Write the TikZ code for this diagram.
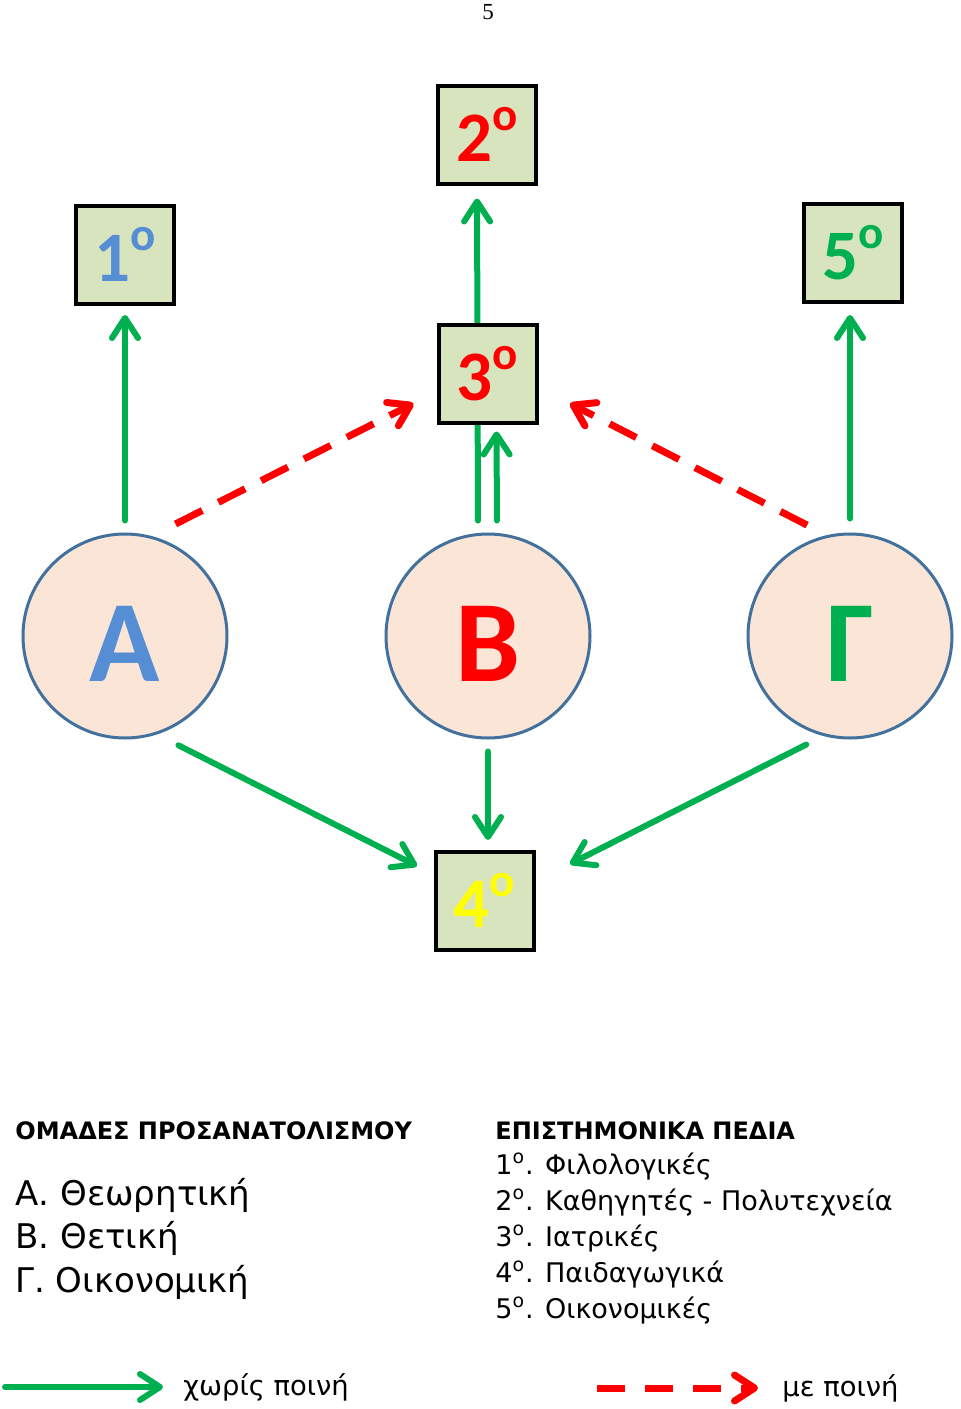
\documentclass[tikz,border=0pt]{standalone}
\usepackage{fontspec}
\setmainfont{DejaVu Sans}
\newfontfamily\calfont{Carlito}
\newfontfamily\pagefont{Liberation Serif}
\usetikzlibrary{arrows.meta,positioning,backgrounds}

\definecolor{boxgreen}{HTML}{D7E4BD}
\definecolor{peach}{HTML}{FBE5D6}
\definecolor{rim}{HTML}{41719C}
\definecolor{arrgreen}{HTML}{00B050}
\definecolor{fblue}{HTML}{558ED5}
\definecolor{fred}{HTML}{FF0000}
\definecolor{fyellow}{HTML}{FFFF00}

% raised small o of the field boxes
\newcommand\boxsup{\raisebox{15.5pt}{\fontsize{23.5}{24}\selectfont o}}

\begin{document}
\begin{tikzpicture}[
    x=0.5pt, y=-0.5pt,
    group/.style={circle, draw=rim, fill=peach, line width=1.5pt, minimum size=102pt, inner sep=0pt,
      text height=45.9pt, text depth=0pt,
      font=\calfont\bfseries\fontsize{58}{58}\selectfont},
    field/.style={rectangle, draw=black, fill=boxgreen, line width=2pt, minimum size=49pt, inner sep=0pt,
      font=\calfont\bfseries\fontsize{35.5}{36}\selectfont},
    nopen/.style={draw=arrgreen, line width=3pt, line cap=round, -{Straight Barb[length=10pt, width=13pt, round]}},
    pen/.style={draw=fred, line width=3.5pt, dash pattern=on 15pt off 9pt, -{Straight Barb[length=10pt, width=13pt, round]}},
    head/.style={font=\bfseries\fontsize{12}{14}\selectfont, anchor=base west, inner sep=0pt},
    grouptext/.style={font=\fontsize{17}{20}\selectfont, anchor=base west, inner sep=0pt},
    fieldtext/.style={font=\fontsize{13.5}{16}\selectfont, anchor=base west, inner sep=0pt},
    keylabel/.style={font=\fontsize{13.7}{16}\selectfont, inner sep=0pt}
  ]
  \useasboundingbox (0,0) rectangle (960,1409);

  % Page number
  \node[font=\pagefont\fontsize{11.5}{12}\selectfont] (page) at (488,12) {5};

  % Orientation groups
  \node[group, text=fblue] (A) at (125,636) {Α};
  \node[group, text=fred] (B) at (488,636) {Β};
  \node[group, text=arrgreen] (G) at (850,636) {Γ};

  % Scientific fields
  \foreach \n/\x/\y/\c in {1/125/254.5/fblue, 2/487/134.5/fred, 3/487.5/373.5/fred, 4/484.5/900.5/fyellow, 5/853/253/arrgreen}
    \node[field, text=\c] (F\n) at (\x,\y) {\n\boxsup};

  \begin{pgfonlayer}{background}
  % Without penalty
  \draw[nopen, shorten <=6pt, shorten >=4.75pt] (A.north) -- (F1.south);
  \draw[nopen, shorten <=6pt, shorten >=6.5pt] ([xshift=-5pt]B.north) -- ([xshift=-5pt]F2.south);
  \draw[nopen, shorten <=6pt, shorten >=3.5pt] ([xshift=4.5pt]B.north) -- ([xshift=4.5pt]F3.south);
  \draw[nopen, shorten <=7pt, shorten >=5.5pt] (G.north) -- (G.north |- F5.south);
  \draw[nopen, shorten <=12pt] (A.288) -- ([shift={(-16.5,16.5)}]F4.north west);
  \draw[nopen, shorten <=6pt, shorten >=4.75pt] (B.south) -- (B.south |- F4.north);
  \draw[nopen, shorten <=9.5pt] (G.255) -- ([shift={(34.5,14.5)}]F4.north east);

  % With penalty
  \draw[pen, shorten <=13.3pt] (A.75) -- ([shift={(-23,-21)}]F3.south west);
  \draw[pen, shorten <=11pt] (G.103) -- ([shift={(31.5,-21)}]F3.south east);
  \end{pgfonlayer}

  % Legend of groups
  \node[head] (GH) at (15,1139) {ΟΜΑΔΕΣ ΠΡΟΣΑΝΑΤΟΛΙΣΜΟΥ};
  \foreach \t [count=\i] in {Α. Θεωρητική, Β. Θετική, Γ. Οικονομική}
    \node[grouptext] (GL\i) at (15,1161.5+43.5*\i) {\t};

  % Legend of fields
  \node[head] (FH) at (495,1139) {ΕΠΙΣΤΗΜΟΝΙΚΑ ΠΕΔΙΑ};
  \foreach \t [count=\i] in {Φιλολογικές, Καθηγητές - Πολυτεχνεία, Ιατρικές, Παιδαγωγικά, Οικονομικές}
    \node[fieldtext] (FL\i) at (495,1138+36*\i) {\i\textsuperscript{o}. \t};

  % Key
  \coordinate (nps) at (5,1387);
  \coordinate (npe) at (163,1387);
  \draw[nopen] (nps) -- (npe);
  \node[keylabel, right=10pt of npe] (nplabel) {χωρίς ποινή};

  \coordinate (ps) at (597,1388);
  \coordinate (pe) at (758,1388);
  \draw[pen, dash pattern=on 14pt off 10pt] (ps) -- (pe);
  \node[keylabel, right=12pt of pe] (plabel) {με ποινή};

\end{tikzpicture}
\end{document}
